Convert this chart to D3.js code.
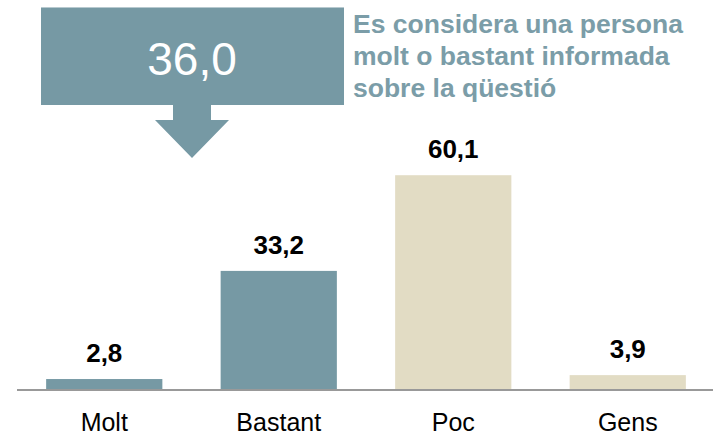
<!DOCTYPE html>
<html lang="ca">
<head>
    <meta charset="utf-8">
    <title>Informació sobre la qüestió</title>
    <style>
        body { margin: 0; background: #fff; }
        svg text { font-family: "Liberation Sans", Arial, sans-serif; }
    </style>
</head>
<body>

<div id="chart"></div>

<script src="https://d3js.org/d3.v7.min.js"></script>

<script type="text/javascript">

    // data
    var categories = ["Molt", "Bastant", "Poc", "Gens"];
    var values = [2.8, 33.2, 60.1, 3.9];
    var headlineValue = 36.0;
    var titleLines = ["Es considera una persona", "molt o bastant informada", "sobre la qüestió"];

    var width = 713,
        height = 435;

    var blue = "#7699a4",
        beige = "#e2dcc4";

    var fmt = d3.formatLocale({decimal: ",", thousands: ".", grouping: [3], currency: ["", "€"]}).format(".1f");

    var svg = d3.select("#chart")
        .append("svg")
        .attr("width", width)
        .attr("height", height);

    var x = d3.scaleBand()
        .domain(categories)
        .range([17, 715])
        .paddingInner(0.334)
        .paddingOuter(0.167);

    var y = d3.scaleLinear()
        .domain([0, 70])
        .range([389, 140]);

    var color = d3.scaleOrdinal()
        .domain(categories)
        .range([blue, blue, beige, beige]);

    var dataset = categories.map(function (c, i) {
        return {category: c, value: values[i]};
    });

    // bars
    svg.selectAll(".bar")
        .data(dataset)
        .enter().append("rect")
        .attr("class", "bar")
        .attr("x", function (d) { return x(d.category); })
        .attr("y", function (d) { return y(d.value); })
        .attr("width", x.bandwidth())
        .attr("height", function (d) { return y(0) - y(d.value); })
        .style("fill", function (d) { return color(d.category); });

    // value labels
    svg.selectAll(".val")
        .data(dataset)
        .enter().append("text")
        .attr("class", "val")
        .attr("x", function (d) { return x(d.category) + x.bandwidth() / 2; })
        .attr("y", function (d) { return y(d.value) - 17; })
        .attr("text-anchor", "middle")
        .style("font-size", "26px")
        .style("font-weight", "bold")
        .style("fill", "#000")
        .text(function (d) { return fmt(d.value); });

    // baseline
    svg.append("line")
        .attr("x1", 17)
        .attr("x2", width)
        .attr("y1", y(0) + 1)
        .attr("y2", y(0) + 1)
        .style("stroke", "#999")
        .style("stroke-width", 2);

    // category labels
    var xAxis = svg.append("g")
        .attr("transform", "translate(0," + (y(0) + 1) + ")")
        .call(d3.axisBottom(x).tickSize(0).tickPadding(0));
    xAxis.select(".domain").remove();
    xAxis.selectAll("text")
        .attr("dy", null)
        .attr("y", 41)
        .style("font-size", "25px")
        .style("fill", "#000");

    // headline box with arrow
    var box = svg.append("g");
    box.append("path")
        .attr("d", "M41,7H344V105H211V120H229L192,158L155,120H173V105H41Z")
        .style("fill", blue);
    box.append("line")
        .attr("x1", 41).attr("x2", 344)
        .attr("y1", 7.5).attr("y2", 7.5)
        .style("stroke", "#b7c9cf")
        .style("stroke-width", 1);
    box.append("text")
        .attr("x", 192)
        .attr("y", 75)
        .attr("text-anchor", "middle")
        .style("font-size", "46px")
        .style("fill", "#fff")
        .text(fmt(headlineValue));

    // title
    svg.append("g").selectAll("text")
        .data(titleLines)
        .enter().append("text")
        .attr("x", 353)
        .attr("y", function (d, i) { return 33 + i * 32; })
        .style("font-size", "26.5px")
        .style("font-weight", "bold")
        .style("fill", "#7b9da8")
        .text(function (d) { return d; });

</script>
</body>
</html>
